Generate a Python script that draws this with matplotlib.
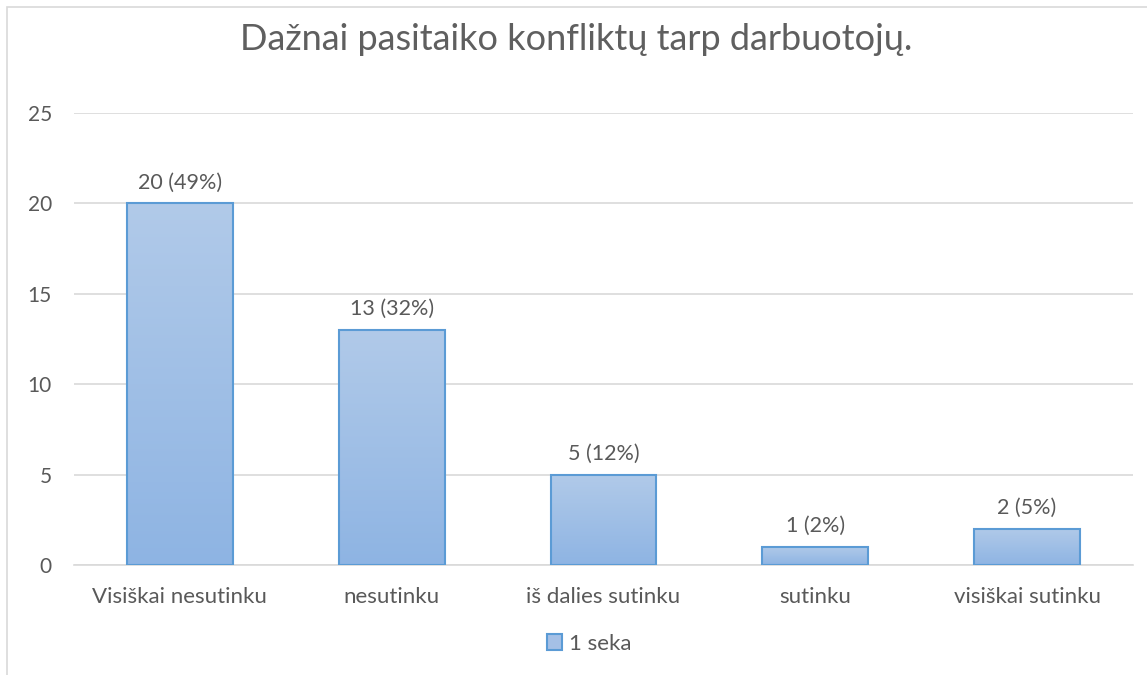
import numpy as np
import matplotlib.pyplot as plt
from matplotlib.patches import Rectangle
from matplotlib.colors import LinearSegmentedColormap

categories = ["Visiškai nesutinku", "nesutinku", "iš dalies sutinku", "sutinku", "visiškai sutinku"]
values = [20, 13, 5, 1, 2]
labels = ["20 (49%)", "13 (32%)", "5 (12%)", "1 (2%)", "2 (5%)"]
series_name = "1 seka"
title = "Dažnai pasitaiko konfliktų tarp darbuotojų."

plt.rcParams['font.family'] = ['Lato', 'DejaVu Sans']

fig = plt.figure(figsize=(11.47, 6.75), dpi=100)
ax = fig.add_axes([74 / 1147, 1 - 565 / 675, (1133 - 74) / 1147, (565 - 113) / 675])

# chart border (right/bottom run off the image)
fig.patches.append(Rectangle((7 / 1147, -0.1), 1.2, 1 - 7 / 675 + 0.1, transform=fig.transFigure,
                             fill=False, edgecolor="#d9d9d9", linewidth=1.2))

x = np.arange(len(categories))
bars = ax.bar(x, values, width=0.5, color="none", edgecolor="#5b9bd5", linewidth=1.5, zorder=3)

# vertical gradient fill inside each bar
grad = np.linspace(0, 1, 256).reshape(-1, 1)
cmap = LinearSegmentedColormap.from_list("g", ["#8eb4e3", "#b1cae9"])
for b in bars:
    im = ax.imshow(grad, cmap=cmap, aspect="auto", origin="lower",
                   extent=[b.get_x(), b.get_x() + b.get_width(), 0, b.get_height()], zorder=2)
    im.set_clip_path(b)

for xi, v, lab in zip(x, values, labels):
    ax.text(xi, v + 0.6, lab, ha="center", va="bottom", fontsize=15.5, color="#595959")

ax.set_xlim(-0.5, len(categories) - 0.5)
ax.set_ylim(0, 25)
ax.set_yticks([0, 5, 10, 15, 20, 25])
ax.set_xticks(x)
ax.set_xticklabels(categories)
ax.tick_params(axis="both", length=0, labelcolor="#595959")
ax.tick_params(axis="x", pad=16, labelsize=16)
ax.tick_params(axis="y", pad=16, labelsize=15)
ax.grid(axis="y", color="#d9d9d9", linewidth=1.2, zorder=0)
ax.set_axisbelow(True)
for s in ["top", "right", "left"]:
    ax.spines[s].set_visible(False)
ax.spines["bottom"].set_color("#d9d9d9")
ax.spines["bottom"].set_linewidth(1.2)

fig.text(576 / 1147, 1 - 40 / 675, title, ha="center", va="center", fontsize=26, color="#5f5f5f")

handle = Rectangle((0, 0), 1, 1, facecolor="#a5c0e6", edgecolor="#5b9bd5", linewidth=1.5)
fig.legend([handle], [series_name], loc="center", bbox_to_anchor=(589 / 1147, 1 - 644 / 675),
           frameon=False, fontsize=16, labelcolor="#595959", handlelength=0.7, handleheight=0.7,
           handletextpad=0.3)

fig.savefig("out.png", dpi=100)
